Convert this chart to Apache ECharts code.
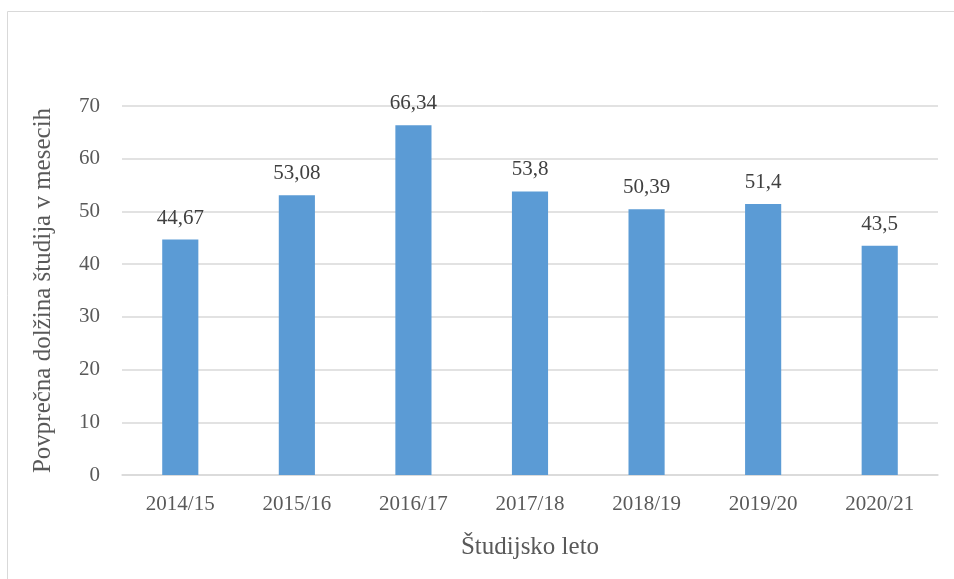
<!DOCTYPE html>
<html>
<head>
<meta charset="utf-8">
<script src="https://cdn.jsdelivr.net/npm/echarts@6/dist/echarts.min.js"></script>
<style>
  html, body { margin: 0; padding: 0; background: #fff; }
  #chart { width: 954px; height: 579px; }
</style>
</head>
<body>
<div id="chart"></div>
<script>
// podatki
var categories = ['2014/15', '2015/16', '2016/17', '2017/18', '2018/19', '2019/20', '2020/21'];
var values = [44.67, 53.08, 66.34, 53.8, 50.39, 51.4, 43.5];
var labels = ['44,67', '53,08', '66,34', '53,8', '50,39', '51,4', '43,5'];

var font = 'Liberation Serif';
var chart = echarts.init(document.getElementById('chart'));

var option = {
    animation: false,
    graphic: [{
        type: 'rect',
        shape: { x: 7.5, y: 11.5, width: 960, height: 600 },
        style: { fill: 'none', stroke: '#d9d9d9', lineWidth: 1 }
    }],
    grid: { left: 122, right: 16, top: 106, bottom: 104 },
    xAxis: {
        type: 'category',
        data: categories,
        name: 'Študijsko leto',
        nameLocation: 'middle',
        nameGap: 60,
        nameTextStyle: { fontFamily: font, fontSize: 25, color: '#595959' },
        axisLine: { lineStyle: { color: '#d9d9d9', width: 1.5 } },
        axisTick: { show: false },
        axisLabel: { fontFamily: font, fontSize: 21, color: '#595959', margin: 19 }
    },
    yAxis: {
        type: 'value',
        min: 0,
        max: 70,
        interval: 10,
        name: 'Povprečna dolžina študija v mesecih',
        nameLocation: 'middle',
        nameGap: 66,
        nameTextStyle: { fontFamily: font, fontSize: 25, color: '#595959' },
        axisLine: { show: false },
        axisTick: { show: false },
        axisLabel: { fontFamily: font, fontSize: 21, color: '#595959', margin: 22 },
        splitLine: { lineStyle: { color: '#d9d9d9', width: 1.5 } }
    },
    series: [{
        type: 'bar',
        data: values,
        barWidth: '31%',
        itemStyle: { color: '#5b9bd5' },
        label: {
            show: true,
            position: 'top',
            distance: 11,
            fontFamily: font,
            fontSize: 21,
            color: '#404040',
            formatter: function (p) { return labels[p.dataIndex]; }
        }
    }]
};

chart.setOption(option);
</script>
</body>
</html>
